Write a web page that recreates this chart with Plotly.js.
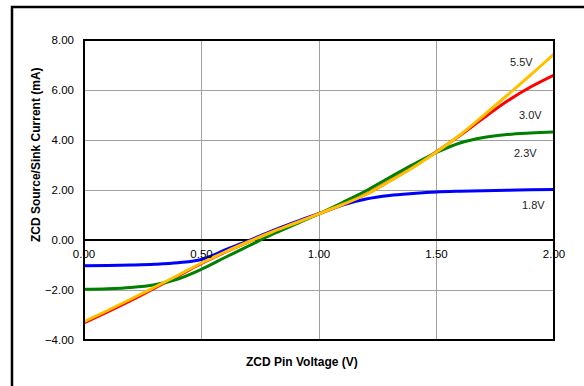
<!DOCTYPE html>
<html>
<head>
<meta charset="utf-8">
<script src="https://cdn.plot.ly/plotly-3.0.1.min.js"></script>
<style>html,body{margin:0;padding:0;background:#fff;}#chart{width:584px;height:386px;}</style>
</head>
<body>
<div id="chart"></div>
<script>
const xVals = [0, 0.1, 0.2, 0.3, 0.4, 0.5, 0.6, 0.7, 0.8, 0.9, 1.0, 1.1, 1.2, 1.3, 1.4, 1.5, 1.6, 1.7, 1.8, 1.9, 2.0];
const v18 = [-1.03, -1.02, -1.0, -0.97, -0.91, -0.78, -0.4, -0.03, 0.36, 0.72, 1.06, 1.4, 1.64, 1.78, 1.86, 1.92, 1.95, 1.97, 1.99, 2.01, 2.02];
const v23 = [-1.97, -1.95, -1.9, -1.79, -1.56, -1.17, -0.7, -0.24, 0.22, 0.63, 1.05, 1.5, 1.97, 2.5, 3.02, 3.5, 3.88, 4.1, 4.22, 4.28, 4.32];
const v30 = [-3.32, -2.88, -2.42, -1.93, -1.44, -0.94, -0.49, -0.07, 0.32, 0.68, 1.05, 1.42, 1.83, 2.36, 2.92, 3.53, 4.18, 4.88, 5.55, 6.12, 6.6];
const v55 = [-3.27, -2.82, -2.36, -1.89, -1.41, -0.92, -0.48, -0.07, 0.32, 0.68, 1.05, 1.42, 1.82, 2.35, 2.9, 3.52, 4.2, 4.98, 5.78, 6.6, 7.44];
const seriesNames = ["1.8V", "3.0V", "2.3V", "5.5V"];
const labelPos = {"5.5V": [1.863, 7.13], "3.0V": [1.898, 5.0], "2.3V": [1.88, 3.47], "1.8V": [1.912, 1.4]};
const xTitle = "ZCD Pin Voltage (V)";
const yTitle = "ZCD Source/Sink Current (mA)";

const mk = (y, color, name) => ({
  x: xVals, y: y, type: 'scatter', mode: 'lines', name: name,
  line: {color: color, width: 3, shape: 'spline', smoothing: 1},
  hoverinfo: 'skip'
});
const data = [
  mk(v18, '#0000FF', '1.8V'),
  mk(v30, '#FF0000', '3.0V'),
  mk(v23, '#008000', '2.3V'),
  mk(v55, '#FFC000', '5.5V')
];
const fam = 'Liberation Sans, Arial, sans-serif';
const font = {family: fam, size: 11.5, color: '#000'};
const annotations = seriesNames.map(n => ({
  x: labelPos[n][0], y: labelPos[n][1], xref: 'x', yref: 'y', text: n,
  xanchor: 'center', yanchor: 'middle',
  showarrow: false, font: {family: fam, size: 11, color: '#222'}
}));
annotations.push({x: 0.4638, y: -0.0733, xref: 'paper', yref: 'paper', text: '<b>' + xTitle + '</b>',
  xanchor: 'center', yanchor: 'middle',
  showarrow: false, font: {family: fam, size: 12, color: '#000'}});
annotations.push({x: -0.1032, y: 0.618, xref: 'paper', yref: 'paper', text: '<b>' + yTitle + '</b>',
  xanchor: 'center', yanchor: 'middle',
  textangle: -90, showarrow: false, font: {family: fam, size: 12, color: '#000'}});

const layout = {
  width: 584, height: 386,
  margin: {l: 84, r: 30, t: 40, b: 46},
  paper_bgcolor: '#fff', plot_bgcolor: '#fff',
  showlegend: false,
  font: font,
  xaxis: {
    range: [0, 2], dtick: 0.5, tick0: 0, tickformat: '.2f',
    anchor: 'free', position: 1/3,
    showgrid: true, gridcolor: '#a0a0a0', gridwidth: 1,
    zeroline: false, showline: false, ticks: '', ticklabelstandoff: 5,
    tickfont: font, fixedrange: true
  },
  yaxis: {
    range: [-4, 8], dtick: 2, tick0: 0, tickformat: '.2f',
    showgrid: true, gridcolor: '#a0a0a0', gridwidth: 1,
    zeroline: true, zerolinecolor: '#000', zerolinewidth: 1.5,
    showline: false, ticks: '', ticklabelstandoff: 9,
    tickfont: font, fixedrange: true
  },
  shapes: [
    {type: 'rect', xref: 'paper', yref: 'paper', x0: 0, x1: 1, y0: 0, y1: 1,
     line: {color: '#000', width: 2}, layer: 'above'},
    {type: 'rect', xref: 'paper', yref: 'paper', x0: -0.1532, x1: 1.2, y0: -0.3, y1: 1.11,
     line: {color: '#000', width: 2.5}, layer: 'above'}
  ],
  annotations: annotations
};
Plotly.newPlot('chart', data, layout, {staticPlot: true, displayModeBar: false});
</script>
</body>
</html>
